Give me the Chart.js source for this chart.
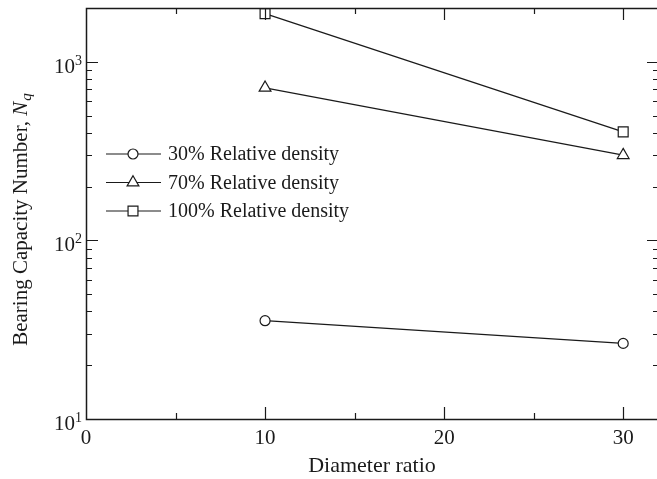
<!DOCTYPE html>
<html><head><meta charset="utf-8">
<script src="https://cdn.jsdelivr.net/npm/chart.js@4.4.0/dist/chart.umd.min.js"></script>
<style>html,body{margin:0;padding:0;background:#fff;overflow:hidden}#wrap{width:657px;height:479px;overflow:hidden}</style>
</head><body>
<div id="wrap"><canvas id="c" width="660" height="479"></canvas></div>
<script>
// ---- data ----
const diameterRatio = [10, 30];
const nq30 = [35.5, 26.5];
const nq70 = [715, 300];
const nq100 = [1860, 405];
const seriesLabels = ['30% Relative density', '70% Relative density', '100% Relative density'];
const seriesMarkers = ['circle', 'triangle', 'rect'];
const xMajorTicks = [0, 10, 20, 30];
const xMajorLabels = ['0', '10', '20', '30'];
const xMinorTicks = [5, 15, 25];
const yDecades = [10, 100, 1000];
const yExponents = ['1', '2', '3'];
const xTitle = 'Diameter ratio';
const yTitleMain = 'Bearing Capacity Number, ';
const yTitleSym = 'N';
const yTitleSub = 'q';

const INK = '#1a1a1a';
const SERIF = '"Liberation Serif", "DejaVu Serif", serif';
const markerRadius = { circle: 5, triangle: 6.8, rect: 7 };

function toXY(ys) { return diameterRatio.map((x, i) => ({ x: x, y: ys[i] })); }

const datasets = [nq30, nq70, nq100].map((ys, i) => ({
  label: seriesLabels[i],
  data: toXY(ys),
  showLine: true,
  borderColor: INK,
  borderWidth: 1.2,
  backgroundColor: '#fff',
  pointStyle: seriesMarkers[i],
  pointRadius: markerRadius[seriesMarkers[i]],
  pointBorderWidth: 1.2,
  pointBorderColor: INK,
  pointBackgroundColor: '#fff',
  tension: 0
}));

function drawMarker(ctx, style, x, y) {
  const r = markerRadius[style];
  ctx.beginPath();
  if (style === 'circle') {
    ctx.arc(x, y, r, 0, Math.PI * 2);
  } else if (style === 'triangle') {
    let rad = 0;
    ctx.moveTo(x + Math.sin(rad) * r, y - Math.cos(rad) * r);
    rad += 2 * Math.PI / 3;
    ctx.lineTo(x + Math.sin(rad) * r, y - Math.cos(rad) * r);
    rad += 2 * Math.PI / 3;
    ctx.lineTo(x + Math.sin(rad) * r, y - Math.cos(rad) * r);
    ctx.closePath();
  } else {
    const s = Math.SQRT1_2 * r;
    ctx.rect(x - s, y - s, 2 * s, 2 * s);
  }
  ctx.fillStyle = '#fff';
  ctx.fill();
  ctx.lineWidth = 1.2;
  ctx.strokeStyle = INK;
  ctx.stroke();
}

const framePlugin = {
  id: 'frame',
  afterDraw(chart) {
    const ctx = chart.ctx;
    const a = chart.chartArea;
    const xs = chart.scales.x, ys = chart.scales.y;
    ctx.save();
    ctx.strokeStyle = INK;
    ctx.lineWidth = 1.5;
    // frame
    ctx.strokeRect(a.left + 0.5, a.top + 0.5, a.right - a.left - 1, a.bottom - a.top);
    ctx.lineWidth = 1.2;
    ctx.beginPath();
    // x ticks
    const tick = (px, len) => {
      ctx.moveTo(px, a.bottom); ctx.lineTo(px, a.bottom - len);
      ctx.moveTo(px, a.top); ctx.lineTo(px, a.top + len);
    };
    xMajorTicks.forEach(v => { if (v > 0) tick(Math.round(xs.getPixelForValue(v)) + 0.5, 12); });
    xMinorTicks.forEach(v => tick(Math.round(xs.getPixelForValue(v)) + 0.5, 6));
    // y ticks
    const ytick = (py, len) => {
      ctx.moveTo(a.left, py); ctx.lineTo(a.left + len, py);
      ctx.moveTo(a.right, py); ctx.lineTo(a.right - len, py);
    };
    yDecades.forEach(d => {
      if (d > ys.min) ytick(Math.round(ys.getPixelForValue(d)) + 0.5, 12);
      for (let k = 2; k <= 9; k++) {
        const v = d * k;
        if (v < ys.max) ytick(Math.round(ys.getPixelForValue(v)) + 0.5, 6);
      }
    });
    ctx.stroke();

    // x tick labels
    ctx.fillStyle = INK;
    ctx.font = '21px ' + SERIF;
    ctx.textAlign = 'center';
    ctx.textBaseline = 'alphabetic';
    xMajorTicks.forEach((v, i) => {
      ctx.fillText(xMajorLabels[i], xs.getPixelForValue(v), a.bottom + 25);
    });
    // y tick labels (10^n)
    yDecades.forEach((d, i) => {
      const py = ys.getPixelForValue(d);
      ctx.font = '14px ' + SERIF;
      const ew = ctx.measureText(yExponents[i]).width;
      ctx.textAlign = 'right';
      ctx.fillText(yExponents[i], a.left - 4, py + 3);
      ctx.font = '21px ' + SERIF;
      ctx.fillText('10', a.left - 4 - ew, py + 11);
    });
    // x title
    ctx.font = '22px ' + SERIF;
    ctx.textAlign = 'center';
    ctx.fillText(xTitle, 372, 472);
    // y title (rotated)
    ctx.save();
    ctx.translate(27, 220);
    ctx.rotate(-Math.PI / 2);
    ctx.textAlign = 'left';
    ctx.font = '21px ' + SERIF;
    const w1 = ctx.measureText(yTitleMain).width;
    ctx.font = 'italic 21px ' + SERIF;
    const w2 = ctx.measureText(yTitleSym).width;
    ctx.font = 'italic 15px ' + SERIF;
    const w3 = ctx.measureText(yTitleSub).width;
    let x0 = -(w1 + w2 + w3) / 2;
    ctx.font = '21px ' + SERIF;
    ctx.fillText(yTitleMain, x0, 0);
    ctx.font = 'italic 21px ' + SERIF;
    ctx.fillText(yTitleSym, x0 + w1, 0);
    ctx.font = 'italic 15px ' + SERIF;
    ctx.fillText(yTitleSub, x0 + w1 + w2 + 1, 4);
    ctx.restore();

    // legend
    chart.data.datasets.forEach((ds, i) => {
      const y = 154 + 28.5 * i;
      ctx.beginPath();
      ctx.lineWidth = 1.2;
      ctx.strokeStyle = INK;
      ctx.moveTo(106, y); ctx.lineTo(161, y);
      ctx.stroke();
      drawMarker(ctx, seriesMarkers[i], 133, y);
      ctx.fillStyle = INK;
      ctx.font = '20px ' + SERIF;
      ctx.textAlign = 'left';
      ctx.textBaseline = 'middle';
      ctx.fillText(ds.label, 168, y + 1);
      ctx.textBaseline = 'alphabetic';
    });
    ctx.restore();
  }
};

new Chart(document.getElementById('c'), {
  type: 'scatter',
  data: { datasets: datasets },
  options: {
    responsive: false,
    animation: false,
    devicePixelRatio: 1,
    layout: { autoPadding: false, padding: { left: 86, top: 8, right: 1, bottom: 60 } },
    plugins: { legend: { display: false }, tooltip: { enabled: false } },
    scales: {
      x: { type: 'linear', min: 0, max: 32, display: false },
      y: { type: 'logarithmic', min: 10, max: 2000, display: false }
    }
  },
  plugins: [framePlugin]
});
</script>
</body></html>
